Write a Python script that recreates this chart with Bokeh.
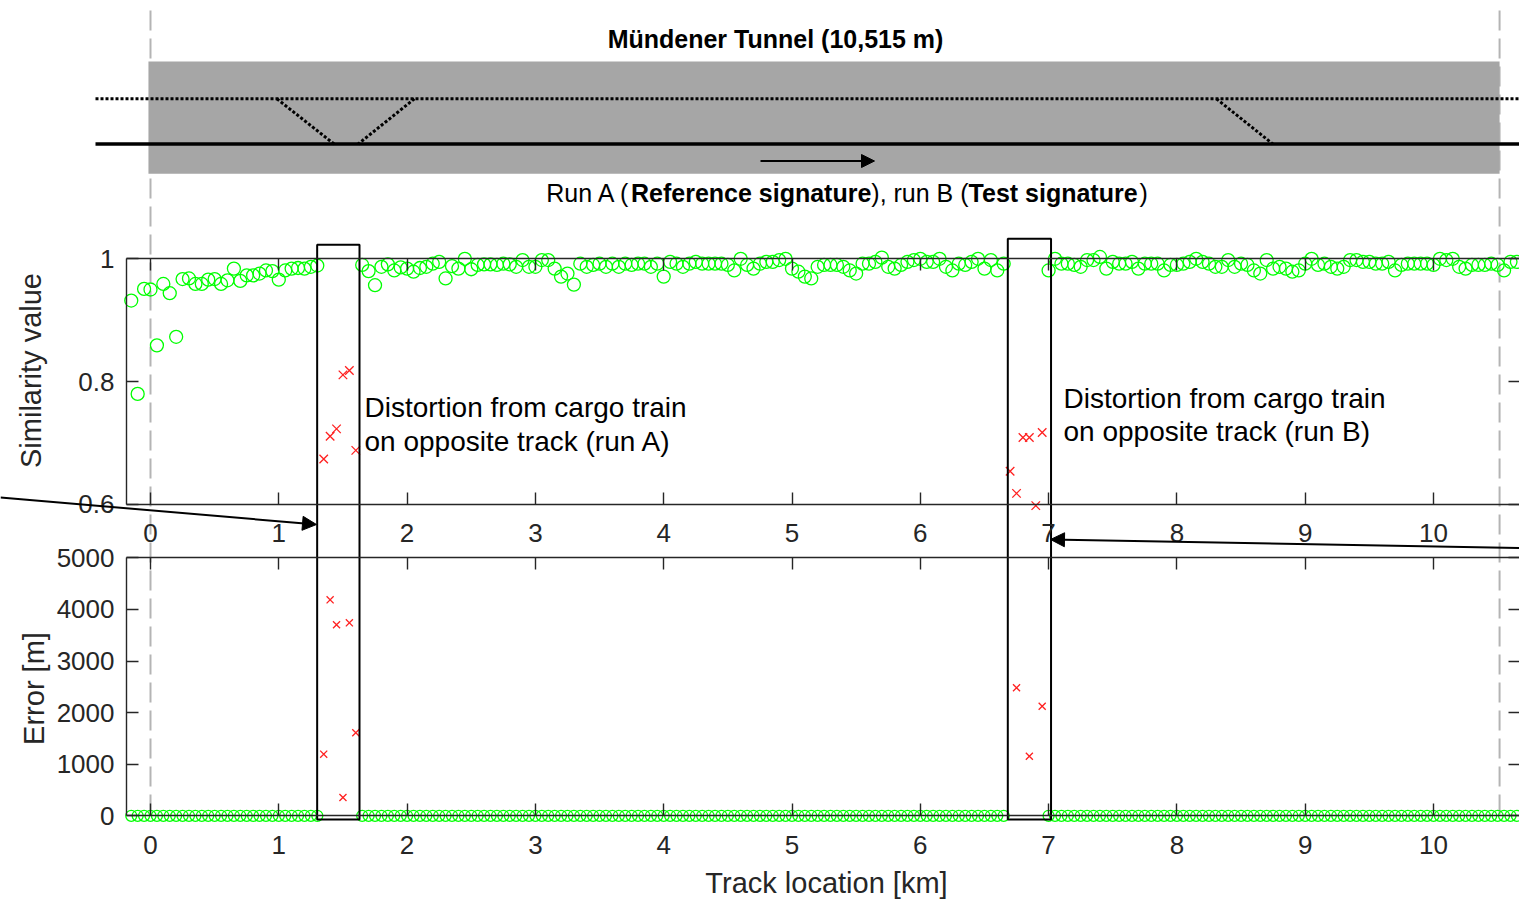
import math

from bokeh.core.properties import value
from bokeh.embed import file_html
from bokeh.models import Arrow, FixedTicker, LinearAxis, NormalHead, Range1d
from bokeh.plotting import figure
from bokeh.resources import INLINE

# ---------------------------------------------------------------- data
STEP_KM = 0.05                      # signature comparison every 50 m
KM_TICKS = [0, 1, 2, 3, 4, 5, 6, 7, 8, 9, 10]
SIM_TICKS = [0.6, 0.8, 1.0]
ERR_TICKS = [0, 1000, 2000, 3000, 4000, 5000]
TUNNEL_KM = 10.515

# similarity of correctly located windows, three uninterrupted stretches
sim_seg1_start = -0.15
sim_seg1 = [0.932, 0.780, 0.951, 0.950, 0.859, 0.959, 0.944, 0.873, 0.967, 0.968,
            0.959, 0.959, 0.966, 0.967, 0.959, 0.965, 0.984, 0.964, 0.973, 0.973,
            0.976, 0.981, 0.980, 0.966, 0.981, 0.984, 0.985, 0.984, 0.987, 0.989]
sim_seg2_start = 1.65
sim_seg2 = [0.990, 0.980, 0.957, 0.987, 0.991, 0.981, 0.986, 0.984, 0.979, 0.985,
            0.987, 0.992, 0.995, 0.968, 0.988, 0.984, 1.000, 0.983, 0.990, 0.991,
            0.991, 0.990, 0.992, 0.991, 0.987, 0.998, 0.987, 0.987, 0.998, 0.998,
            0.984, 0.971, 0.976, 0.958, 0.992, 0.987, 0.990, 0.992, 0.987, 0.992,
            0.987, 0.992, 0.990, 0.992, 0.992, 0.987, 0.992, 0.971, 0.995, 0.992,
            0.987, 0.992, 0.995, 0.992, 0.992, 0.992, 0.992, 0.990, 0.981, 1.000,
            0.990, 0.984, 0.992, 0.995, 0.995, 0.998, 1.000, 0.984, 0.979, 0.971,
            0.968, 0.987, 0.990, 0.990, 0.990, 0.987, 0.981, 0.976, 0.992, 0.992,
            0.995, 1.002, 0.987, 0.984, 0.990, 0.995, 0.998, 1.000, 0.995, 0.995,
            1.000, 0.987, 0.981, 0.992, 0.990, 0.995, 1.000, 0.984, 0.998, 0.981,
            0.992]
sim_seg3_start = 7.00
sim_seg3 = [0.981, 1.000, 0.992, 0.992, 0.990, 0.987, 0.998, 0.998, 1.003, 0.984,
            0.995, 0.992, 0.992, 0.995, 0.984, 0.992, 0.992, 0.992, 0.981, 0.990,
            0.990, 0.992, 0.995, 1.000, 0.995, 0.992, 0.987, 0.987, 0.998, 0.987,
            0.992, 0.990, 0.981, 0.976, 0.998, 0.984, 0.987, 0.984, 0.979, 0.981,
            0.992, 1.000, 0.990, 0.992, 0.987, 0.984, 0.987, 0.998, 0.998, 0.995,
            0.995, 0.992, 0.992, 0.995, 0.981, 0.990, 0.992, 0.992, 0.992, 0.992,
            0.990, 1.000, 0.998, 1.000, 0.987, 0.984, 0.990, 0.990, 0.990, 0.992,
            0.990, 0.981, 0.995, 0.995]

# windows disturbed by the cargo train on the opposite track
bad_a_km = [1.35, 1.40, 1.45, 1.50, 1.55, 1.60]
bad_a_sim = [0.674, 0.711, 0.723, 0.811, 0.818, 0.688]
bad_a_err = [1194, 4186, 3702, 355, 3740, 1609]
bad_b_km = [6.70, 6.75, 6.80, 6.85, 6.90, 6.95]
bad_b_sim = [0.654, 0.618, 0.709, 0.709, 0.598, 0.717]
bad_b_err_km = [6.75, 6.85, 6.95]
bad_b_err = [2481, 1155, 2124]

good_km, good_sim = [], []
for start, seg in ((sim_seg1_start, sim_seg1), (sim_seg2_start, sim_seg2), (sim_seg3_start, sim_seg3)):
    good_km += [round(start + STEP_KM * i, 3) for i in range(len(seg))]
    good_sim += seg
good_err = [0.0 for _ in good_km]   # correctly located: no position error

# ---------------------------------------------------------------- page geometry
W, H = 1519, 899
PX_PER_KM = 128.3
X0_PX = 150.0                       # page column of 0 km
SIM_TOP_ROW, SIM_ROWS_PER_UNIT = 258.3, 614.0
ERR_ZERO_ROW, ERR_ROWS_PER_M = 815.3, 0.0516
AX_LEFT_KM = (126 - X0_PX) / PX_PER_KM
AX_RIGHT_KM = (1520 - X0_PX) / PX_PER_KM

FONT = "Liberation Sans"
AX_COLOR = "#262626"
GREEN = "#00ff00"
RED = "#ff2020"

p = figure(width=W, height=H, output_backend="svg", toolbar_location=None,
           x_range=Range1d(-X0_PX / PX_PER_KM, (W - X0_PX) / PX_PER_KM),
           y_range=Range1d(H, 0),            # page rows, counted downwards
           x_axis_type=None, y_axis_type=None, min_border=0)
p.extra_x_ranges = {"px": Range1d(0, W)}
p.extra_y_ranges = {
    "sim": Range1d(1 - (H - SIM_TOP_ROW) / SIM_ROWS_PER_UNIT, 1 + SIM_TOP_ROW / SIM_ROWS_PER_UNIT),
    "err": Range1d(-(H - ERR_ZERO_ROW) / ERR_ROWS_PER_M, ERR_ZERO_ROW / ERR_ROWS_PER_M),
}
p.outline_line_color = None
p.background_fill_color = "white"
p.border_fill_color = "white"


def style_axis(ax, labels=True):
    ax.axis_line_color = AX_COLOR
    ax.axis_line_width = 1.4
    ax.major_tick_line_color = AX_COLOR
    ax.major_tick_line_width = 1.4
    ax.major_tick_in = 12
    ax.major_tick_out = 0
    ax.minor_tick_in = 0
    ax.minor_tick_out = 0
    ax.major_label_text_font = FONT
    ax.major_label_text_font_size = "26px"
    ax.major_label_text_color = AX_COLOR if labels else None
    return ax


# ---------------------------------------------------------------- tunnel sketch
p.segment(x0=[0, TUNNEL_KM], x1=[0, TUNNEL_KM], y0=[10, 10], y1=[818, 818],
          line_color="#b4b4b4", line_width=2, line_dash="20 8")
p.quad(left=[-0.016], right=[TUNNEL_KM], top=[61], bottom=[173.3],
       fill_color="#a6a6a6", line_color=None)
p.segment(x0=[95], x1=[W], y0=[98.3], y1=[98.3], x_range_name="px",
          line_color="black", line_width=3, line_dash="3 2")
p.segment(x0=[0.985, 2.057, 8.308], x1=[1.431, 1.619, 8.748],
          y0=[98.3, 98.3, 98.3], y1=[143.5, 143.5, 143.5],
          line_color="black", line_width=3, line_dash="3 2")
p.segment(x0=[95], x1=[W], y0=[143.5], y1=[143.5], x_range_name="px",
          line_color="black", line_width=3.5)
p.add_layout(Arrow(x_start=760, y_start=160.5, x_end=874, y_end=160.5, x_range_name="px",
                   line_color="black", line_width=2,
                   end=NormalHead(size=13, fill_color="black", line_color="black")))

p.text(x=[775], y=[38], text=["Mündener Tunnel (10,515 m)"], x_range_name="px",
       text_font=value(FONT), text_font_size="25px", text_font_style="bold",
       text_color="black", text_align="center", text_baseline="middle")

# mixed regular / bold caption, laid out with Arial advance widths
ADV = {" ": 278, "(": 333, ")": 333, ",": 278, "A": 667, "B": 667, "R": 722,
       "r": 333, "u": 556, "n": 556}
ADV_B = {" ": 278, "R": 722, "e": 556, "f": 333, "r": 389, "n": 611, "c": 556,
         "s": 556, "i": 278, "g": 611, "a": 556, "t": 333, "u": 611, "T": 611}
caption = [("Run A (", False), ("Reference signature", True), ("), run B (", False),
           ("Test signature", True), (")", False)]
CAP_SIZE = 25
widths = [sum((ADV_B if b else ADV)[c] for c in s) * CAP_SIZE / 1000 for s, b in caption]
cx = 846.5 - sum(widths) / 2
for (s, b), w in zip(caption, widths):
    p.text(x=[cx], y=[192], text=[s], x_range_name="px", text_font=value(FONT),
           text_font_size=f"{CAP_SIZE}px", text_font_style="bold" if b else "normal",
           text_color="black", text_align="left", text_baseline="middle")
    cx += w

# ---------------------------------------------------------------- similarity panel
p.scatter(good_km, good_sim, y_range_name="sim", marker="circle", size=13,
          fill_color=None, line_color=GREEN, line_width=1.3)
p.scatter(bad_a_km + bad_b_km, bad_a_sim + bad_b_sim, y_range_name="sim", marker="x",
          size=12, line_color=RED, line_width=1.3)

sim_y = style_axis(LinearAxis(y_range_name="sim", fixed_location=AX_LEFT_KM, bounds=(0.6, 1.0),
                              ticker=FixedTicker(ticks=SIM_TICKS, minor_ticks=[]),
                              major_label_overrides={0.6: "0.6", 0.8: "0.8", 1.0: "1"}))
sim_y.major_label_standoff = 12
p.add_layout(sim_y, "left")
p.add_layout(style_axis(LinearAxis(y_range_name="sim", fixed_location=AX_RIGHT_KM, bounds=(0.6, 1.0),
                                   ticker=FixedTicker(ticks=SIM_TICKS, minor_ticks=[])), labels=False), "right")
sim_x = style_axis(LinearAxis(y_range_name="sim", fixed_location=0.6, bounds=(AX_LEFT_KM, AX_RIGHT_KM),
                              ticker=FixedTicker(ticks=KM_TICKS, minor_ticks=[])))
sim_x.major_label_standoff = 20
p.add_layout(sim_x, "below")
p.add_layout(style_axis(LinearAxis(y_range_name="sim", fixed_location=1.0, bounds=(AX_LEFT_KM, AX_RIGHT_KM),
                                   ticker=FixedTicker(ticks=KM_TICKS, minor_ticks=[])), labels=False), "above")

# ---------------------------------------------------------------- error panel
p.scatter(good_km, good_err, y_range_name="err", marker="circle", size=11,
          fill_color=None, line_color=GREEN, line_width=1.3)
p.scatter(bad_a_km + bad_b_err_km, bad_a_err + bad_b_err, y_range_name="err", marker="x",
          size=10, line_color=RED, line_width=1.3)

err_y = style_axis(LinearAxis(y_range_name="err", fixed_location=AX_LEFT_KM, bounds=(0, 5000),
                              ticker=FixedTicker(ticks=ERR_TICKS, minor_ticks=[])))
err_y.major_label_standoff = 12
p.add_layout(err_y, "left")
p.add_layout(style_axis(LinearAxis(y_range_name="err", fixed_location=AX_RIGHT_KM, bounds=(0, 5000),
                                   ticker=FixedTicker(ticks=ERR_TICKS, minor_ticks=[])), labels=False), "right")
err_x = style_axis(LinearAxis(y_range_name="err", fixed_location=0, bounds=(AX_LEFT_KM, AX_RIGHT_KM),
                              ticker=FixedTicker(ticks=KM_TICKS, minor_ticks=[])))
err_x.major_label_standoff = 20
p.add_layout(err_x, "below")
p.add_layout(style_axis(LinearAxis(y_range_name="err", fixed_location=5000, bounds=(AX_LEFT_KM, AX_RIGHT_KM),
                                   ticker=FixedTicker(ticks=KM_TICKS, minor_ticks=[])), labels=False), "above")

# axis titles
p.text(x=[30], y=[370], text=["Similarity value"], x_range_name="px", angle=math.pi / 2,
       text_font=value(FONT), text_font_size="29px", text_color=AX_COLOR,
       text_align="center", text_baseline="middle")
p.text(x=[33], y=[688], text=["Error [m]"], x_range_name="px", angle=math.pi / 2,
       text_font=value(FONT), text_font_size="29px", text_color=AX_COLOR,
       text_align="center", text_baseline="middle")
p.text(x=[826], y=[882], text=["Track location [km]"], x_range_name="px",
       text_font=value(FONT), text_font_size="29px", text_color=AX_COLOR,
       text_align="center", text_baseline="middle")

# ---------------------------------------------------------------- highlighted windows
p.quad(left=[1.299, 6.682], right=[1.629, 7.019], top=[244.3, 238.3], bottom=[819, 819],
       fill_color=None, line_color="black", line_width=2)
p.text(x=[364, 364], y=[406.7, 440.7],
       text=["Distortion from cargo train", "on opposite track (run A)"], x_range_name="px",
       text_font=value(FONT), text_font_size="28px", text_color="black",
       text_align="left", text_baseline="alphabetic")
p.text(x=[1063, 1063], y=[398.3, 430.5],
       text=["Distortion from cargo train", "on opposite track (run B)"], x_range_name="px",
       text_font=value(FONT), text_font_size="28px", text_color="black",
       text_align="left", text_baseline="alphabetic")
p.add_layout(Arrow(x_start=0, y_start=497, x_end=316, y_end=524, x_range_name="px",
                   line_color="black", line_width=2,
                   end=NormalHead(size=14, fill_color="black", line_color="black")))
p.add_layout(Arrow(x_start=W, y_start=547.5, x_end=1050, y_end=539, x_range_name="px",
                   line_color="black", line_width=2,
                   end=NormalHead(size=14, fill_color="black", line_color="black")))

open("out.html", "w").write(file_html(p, INLINE))
